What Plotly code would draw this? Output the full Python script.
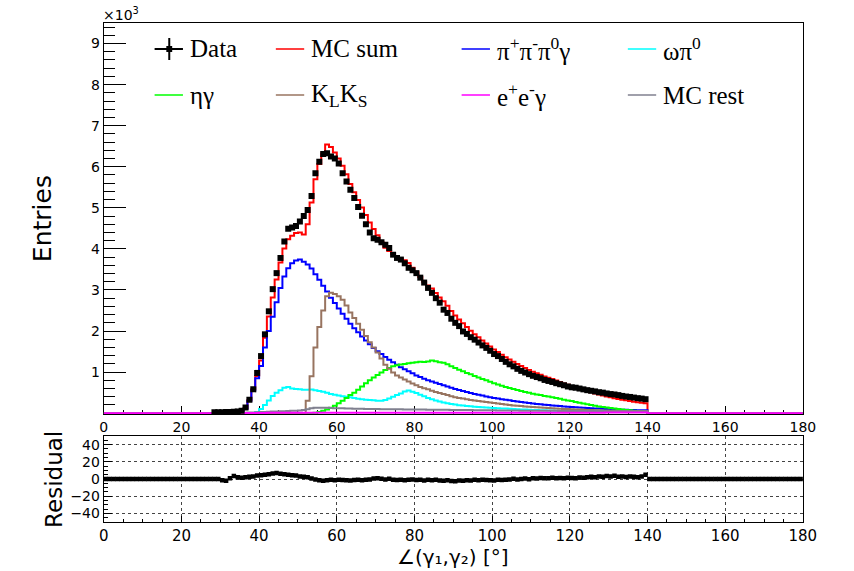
import plotly.graph_objects as go

# ---------------------------------------------------------------------------
# Di-photon opening angle, 1-degree bins from 0 to 180 degrees.
# Each list starts at the bin given by its *_first value.
# ---------------------------------------------------------------------------
N_BINS = 180

data_first = 28
data_counts = [
    20, 25, 25, 30, 30, 35, 40, 60, 140, 330,
    580, 980, 1390, 1920, 2480, 3020, 3410, 3780, 4180, 4490,
    4520, 4560, 4670, 4800, 4950, 5290, 5840, 6120, 6310, 6330,
    6250, 6200, 6080, 5840, 5640, 5440, 5240, 5020, 4810, 4600,
    4400, 4260, 4220, 4160, 4100, 4020, 3860, 3780, 3740, 3650,
    3540, 3480, 3410, 3300, 3180, 3050, 2930, 2800, 2690, 2520,
    2440, 2300, 2200, 2120, 1990, 1930, 1850, 1790, 1720, 1650,
    1590, 1520, 1440, 1390, 1320, 1250, 1190, 1140, 1080, 1030,
    990, 950, 910, 880, 850, 810, 785, 760, 730, 705,
    680, 650, 630, 620, 600, 580, 560, 545, 530, 510,
    500, 480, 465, 455, 440, 420, 405, 395, 380, 365, 355, 340,
]

pipipi0g_first = 35
pipipi0g = [
    30, 110, 300, 560, 850, 1150, 1600, 2000, 2350, 2700,
    3050, 3330, 3530, 3650, 3720, 3740, 3690, 3620, 3520, 3380,
    3250, 3100, 2960, 2810, 2680, 2550, 2420, 2300, 2180, 2070,
    1970, 1870, 1770, 1680, 1590, 1510, 1440, 1370, 1300, 1240,
    1180, 1120, 1070, 1020, 970, 920, 880, 840, 800, 770,
    740, 710, 680, 650, 620, 590, 565, 540, 515, 490,
    468, 448, 428, 408, 390, 372, 356, 340, 326, 312,
    298, 285, 272, 260, 248, 237, 226, 216, 206, 197,
    188, 180, 172, 164, 157, 150, 144, 138, 132, 126,
    121, 116, 111, 106, 101, 97, 93, 89, 85, 82,
    80, 77, 74, 72, 70,
]

omegapi0_first = 39
omegapi0 = [
    30, 100, 200, 310, 420, 500, 560, 620, 640, 600,
    590, 580, 570, 570, 575, 560, 540, 520, 500, 470,
    450, 430, 415, 400, 385, 370, 350, 340, 330, 320,
    315, 305, 300, 320, 360, 400, 440, 480, 530, 550,
    520, 490, 450, 410, 370, 340, 310, 285, 262, 242,
    225, 210, 196, 185, 175, 166, 158, 150, 144, 138,
    132, 127, 121, 116, 111, 106, 101, 96, 92, 88,
    84, 80, 77, 74, 71, 68, 65, 62, 60, 58,
    56, 54, 52, 50, 48, 46, 44, 43, 42, 41,
    40, 39, 38, 37, 36, 35, 34, 33, 32, 31, 30,
]

etagamma_first = 54
etagamma = [
    10, 30, 60, 90, 130, 180, 240, 300, 370, 440,
    500, 570, 650, 730, 800, 870, 930, 990, 1050, 1100,
    1140, 1165, 1185, 1200, 1215, 1230, 1240, 1250, 1245, 1260,
    1285, 1265, 1240, 1225, 1190, 1140, 1100, 1060, 1020, 980,
    945, 905, 870, 835, 800, 765, 730, 700, 670, 640,
    615, 590, 565, 540, 515, 495, 475, 455, 440, 420,
    405, 390, 370, 350, 330, 310, 295, 275, 255, 235,
    215, 200, 180, 165, 150, 138, 125, 112, 100, 90,
    80, 70, 60, 52, 44, 36,
]

klks_first = 52
klks = [
    300, 900, 1600, 2100, 2500, 2850, 2930, 2900, 2850, 2760,
    2620, 2450, 2320, 2180, 2030, 1880, 1730, 1600, 1480, 1330,
    1180, 1080, 990, 920, 870, 820, 770, 720, 680, 640,
    610, 580, 545, 515, 490, 465, 440, 415, 390, 372,
    355, 340, 322, 308, 295, 282, 270, 258, 245, 234,
    222, 211, 200, 190, 180, 172, 164, 156, 148, 142,
    136, 130, 124, 119, 114, 109, 104, 100, 96, 92,
    88, 84, 80, 77, 74, 71, 68, 65, 62, 59,
    56, 54, 52, 50, 48, 46, 45, 44,
]

eeg_first = 36
eeg = [
    2, 3, 4, 5, 6, 7, 8, 9, 10, 10,
    11, 11, 12, 12, 12, 13, 13, 13, 13, 13,
    13, 13, 13, 13, 13, 12, 12, 12, 12, 12,
    12, 12, 12, 11, 11, 11, 11, 11, 11, 11,
    11, 11, 10, 10, 10, 10, 10, 10, 10, 10,
    10, 10, 10, 10, 10, 10, 10, 10, 10, 10,
    10, 10, 10, 10, 10, 10, 10, 10, 10, 10,
    10, 10, 10, 10, 11, 11, 11, 11, 11, 11,
    11, 11, 11, 12, 12, 12, 12, 12, 12, 13,
    13, 13, 13, 14, 14, 14, 15, 15, 15, 16,
    16, 16, 17, 17,
]

mcrest_first = 34
mcrest = [
    5, 8, 10, 14, 18, 22, 26, 30, 34, 38,
    42, 46, 50, 54, 58, 62, 66, 75, 95, 120,
    130, 135, 132, 130, 126, 122, 120, 117, 114, 112,
    110, 108, 106, 104, 102, 100, 99, 98, 97, 96,
    95, 94, 93, 92, 91, 90, 89, 88, 87, 86,
    85, 84, 83, 82, 81, 80, 79, 78, 77, 76,
    75, 74, 73, 72, 71, 70, 69, 68, 67, 66,
    65, 64, 63, 62, 61, 60, 60, 59, 59, 58,
    58, 57, 57, 56, 56, 55, 55, 54, 54, 53,
    53, 52, 52, 51, 51, 50, 50, 49, 49, 48,
    48, 47, 47, 46, 46, 45,
]

residual_first = 30
residual = [
    -1.5, -2.0, 1.0, 3.5, 2.0, 1.5, 2.0, 2.5, 3.0, 4.0,
    4.5, 5.0, 5.5, 6.5, 7.0, 6.0, 5.5, 5.0, 4.5, 4.0,
    3.0, 2.5, 2.0, 0.5, -0.5, -1.5, -2.0, -1.5, -1.0, -1.5,
    -1.0, -1.2, -1.5, -1.8, -1.2, -1.0, -1.5, -1.0, -0.5, 0.5,
    0.8, 0.3, -0.5, 0.2, -1.0, -1.2, -0.8, -1.5, -1.0, -0.5,
    -1.3, -1.0, -1.8, -0.8, -1.5, -1.0, -1.7, -2.0, -1.5, -2.2,
    -2.5, -1.8, -2.0, -1.5, -1.8, -1.0, -1.5, -0.8, -1.2, -1.5,
    -1.8, -1.0, -1.3, -0.8, -0.5, 0.3, -0.5, 0.0, 0.5, -0.3,
    1.0, 0.5, 1.2, 1.0, 0.8, 1.5, 1.0, 1.2, 0.8, 1.5,
    1.2, 1.0, 1.8, 1.5, 2.0, 2.5, 2.0, 3.0, 2.5, 3.5,
    3.0, 3.8, 2.5, 3.0, 2.2, 2.8, 2.5, 2.0, 3.0, 5.0,
]

x_ticks = list(range(0, 181, 20))
y_tick_vals = [1000, 2000, 3000, 4000, 5000, 6000, 7000, 8000, 9000]
y_tick_text = ["1", "2", "3", "4", "5", "6", "7", "8", "9"]
res_tick_vals = [-40, -20, 0, 20, 40]

# ---------------------------------------------------------------------------
def full_range(first, values):
    """Place a list of bin contents into the full 0..180 binning."""
    out = [0.0] * N_BINS
    for i, v in enumerate(values):
        out[first + i] = v
    return out


h_pipipi0g = full_range(pipipi0g_first, pipipi0g)
h_omegapi0 = full_range(omegapi0_first, omegapi0)
h_etagamma = full_range(etagamma_first, etagamma)
h_klks = full_range(klks_first, klks)
h_eeg = full_range(eeg_first, eeg)
h_mcrest = full_range(mcrest_first, mcrest)
h_mcsum = [a + b + c + d + e + f for a, b, c, d, e, f in
           zip(h_pipipi0g, h_omegapi0, h_etagamma, h_klks, h_eeg, h_mcrest)]
h_residual = full_range(residual_first, residual)

edges = list(range(N_BINS + 1))
centers = [i + 0.5 for i in range(N_BINS)]
data_x = [data_first + i + 0.5 for i in range(len(data_counts))]

W, H = 854, 571


def px(x):
    return x / W


def py(y):
    return 1 - y / H


RED = "#ff0000"
BLUE = "#0000ff"
CYAN = "#00ffff"
GREEN = "#00ff00"
BROWN = "#987460"
MAGENTA = "#ff00ff"
GREYBLUE = "#80808f"

fig = go.Figure()


def step(values, color, width=2):
    fig.add_trace(go.Scatter(
        x=edges, y=values + [values[-1]], mode="lines",
        line=dict(color=color, width=width, shape="hv"),
        xaxis="x", yaxis="y", showlegend=False, hoverinfo="skip"))


step(h_mcsum, RED)
step(h_pipipi0g, BLUE)
step(h_omegapi0, CYAN)
step(h_etagamma, GREEN)
step(h_klks, BROWN)
step(h_mcrest, GREYBLUE)
step(h_eeg, MAGENTA)

fig.add_trace(go.Scatter(
    x=data_x, y=data_counts, mode="markers",
    marker=dict(symbol="square", size=6, color="black"),
    xaxis="x", yaxis="y", showlegend=False))

fig.add_trace(go.Scatter(
    x=centers, y=h_residual, mode="markers",
    marker=dict(symbol="square", size=4.5, color="black"),
    xaxis="x2", yaxis="y2", showlegend=False))

xdom = [px(101), px(816)]
tick_font_small = dict(family="DejaVu Sans", size=14, color="black")

fig.update_layout(
    width=W, height=H, autosize=False,
    margin=dict(l=0, r=0, t=0, b=0, pad=0),
    paper_bgcolor="white", plot_bgcolor="white",
    font=dict(family="DejaVu Sans", color="black"),
    showlegend=False,
    xaxis=dict(
        domain=xdom, anchor="y", range=[0, 180],
        tickmode="array", tickvals=x_ticks,
        ticks="inside", ticklen=8, tickcolor="black",
        minor=dict(ticks="inside", ticklen=4, dtick=5, tick0=0,
                   tickcolor="black", showgrid=False),
        showline=True, mirror=True, linecolor="black", linewidth=1,
        showgrid=False, zeroline=False, layer="below traces",
        tickfont=tick_font_small,
    ),
    yaxis=dict(
        domain=[py(414), py(23)], anchor="x", range=[-20, 9500],
        tickmode="array", tickvals=y_tick_vals, ticktext=y_tick_text,
        ticks="inside", ticklen=22, tickcolor="black",
        minor=dict(ticks="inside", ticklen=11, dtick=200, tick0=0,
                   tickmode="linear", tickcolor="black", showgrid=False),
        showline=True, mirror=True, linecolor="black", linewidth=1,
        showgrid=False, zeroline=False, layer="below traces",
        tickfont=tick_font_small,
    ),
    xaxis2=dict(
        domain=xdom, anchor="y2", range=[0, 180],
        tickmode="array", tickvals=x_ticks,
        ticks="inside", ticklen=6, tickcolor="black",
        minor=dict(ticks="inside", ticklen=3, dtick=5, tick0=0,
                   tickcolor="black", showgrid=False),
        showline=True, mirror=True, linecolor="black", linewidth=1,
        showgrid=True, gridcolor="#444444", gridwidth=1, griddash="dot",
        zeroline=False, layer="below traces",
        tickfont=dict(family="DejaVu Sans", size=15, color="black"),
    ),
    yaxis2=dict(
        domain=[py(522), py(436)], anchor="x2", range=[-50, 50],
        tickmode="array", tickvals=res_tick_vals,
        ticks="inside", ticklen=8, tickcolor="black",
        minor=dict(ticks="inside", ticklen=4, dtick=5, tick0=0,
                   tickmode="linear", tickcolor="black", showgrid=False),
        showline=True, mirror=True, linecolor="black", linewidth=1,
        showgrid=True, gridcolor="#444444", gridwidth=1, griddash="dot",
        zeroline=False, layer="below traces",
        tickfont=tick_font_small,
    ),
)

annotations = [
    dict(x=px(98), y=py(14), text="×10<sup>3</sup>", xanchor="left",
         yanchor="middle", font=dict(size=14)),
    dict(x=px(38), y=py(219), text="Entries", textangle=-90,
         xanchor="center", yanchor="middle", font=dict(size=25)),
    dict(x=px(50), y=py(479), text="Residual", textangle=-90,
         xanchor="center", yanchor="middle", font=dict(size=23)),
    dict(x=px(458), y=py(557), text="∠(γ₁,γ₂) [°]",
         xanchor="center", yanchor="middle", font=dict(size=20)),
]

shapes = []

# Legend: two rows of four entries
legend_rows = [49, 95]
legend_entries = [
    (0, 153, None, "Data"),
    (0, 277, RED, "MC sum"),
    (0, 467, BLUE, "π<sup>+</sup>π<sup>-</sup>π<sup>0</sup>γ"),
    (0, 637, CYAN, "ωπ<sup>0</sup>"),
    (1, 153, GREEN, "ηγ"),
    (1, 277, BROWN, "K<sub>L</sub>K<sub>S</sub>"),
    (1, 467, MAGENTA, "e<sup>+</sup>e<sup>-</sup>γ"),
    (1, 637, GREYBLUE, "MC rest"),
]
for row, x0, color, label in legend_entries:
    yc = legend_rows[row]
    if color is None:
        xc = x0 + 15
        shapes.append(dict(type="line", xref="paper", yref="paper",
                           x0=px(x0), x1=px(x0 + 29), y0=py(yc), y1=py(yc),
                           line=dict(color="black", width=2)))
        shapes.append(dict(type="line", xref="paper", yref="paper",
                           x0=px(xc), x1=px(xc), y0=py(yc - 11), y1=py(yc + 11),
                           line=dict(color="black", width=2)))
        shapes.append(dict(type="rect", xref="paper", yref="paper",
                           x0=px(xc - 3), x1=px(xc + 3), y0=py(yc - 3), y1=py(yc + 3),
                           fillcolor="black", line=dict(width=0)))
    else:
        shapes.append(dict(type="line", xref="paper", yref="paper",
                           x0=px(x0), x1=px(x0 + 29), y0=py(yc), y1=py(yc),
                           line=dict(color=color, width=1.5)))
    annotations.append(dict(
        x=px(x0 + 34), y=py(yc), text=label, xanchor="left", yanchor="middle",
        showarrow=False,
        font=dict(family="Liberation Serif", size=25, color="black")))

for a in annotations:
    a.setdefault("showarrow", False)
    a["xref"] = "paper"
    a["yref"] = "paper"

fig.update_layout(annotations=annotations, shapes=shapes)

fig.write_html("out.html", config={"responsive": False, "displayModeBar": False})
